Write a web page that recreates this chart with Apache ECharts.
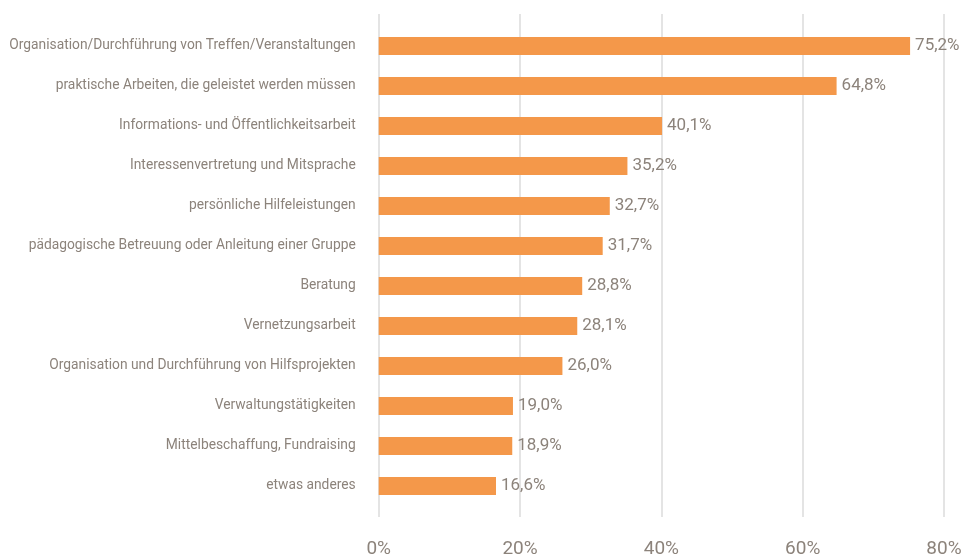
<!DOCTYPE html>
<html>
<head>
<meta charset="utf-8">
<script src="https://cdn.jsdelivr.net/npm/echarts@6/dist/echarts.min.js"></script>
<style>
  html, body { margin: 0; padding: 0; background: #fff; }
  #chart { width: 961px; height: 559px; }
</style>
</head>
<body>
<div id="chart"></div>
<script>
  // categories top to bottom
  var categories = [
    'Organisation/Durchführung von Treffen/Veranstaltungen',
    'praktische Arbeiten, die geleistet werden müssen',
    'Informations- und Öffentlichkeitsarbeit',
    'Interessenvertretung und Mitsprache',
    'persönliche Hilfeleistungen',
    'pädagogische Betreuung oder Anleitung einer Gruppe',
    'Beratung',
    'Vernetzungsarbeit',
    'Organisation und Durchführung von Hilfsprojekten',
    'Verwaltungstätigkeiten',
    'Mittelbeschaffung, Fundraising',
    'etwas anderes'
  ];
  var values = [75.2, 64.8, 40.1, 35.2, 32.7, 31.7, 28.8, 28.1, 26.0, 19.0, 18.9, 16.6];

  var textColor = '#8c837b';
  var font = 'Roboto, sans-serif';

  var chart = echarts.init(document.getElementById('chart'));
  var option = {
    animation: false,
    grid: [
      { left: 378.7, right: 17, top: 26, bottom: 53, outerBoundsMode: 'none', containLabel: false },
      { left: 378.7, right: 17, top: 14, bottom: 42, outerBoundsMode: 'none', containLabel: false }
    ],
    xAxis: [
      {
        gridIndex: 0, type: 'value', min: 0, max: 80, interval: 20,
        axisLine: { show: false }, axisTick: { show: false },
        axisLabel: { show: false }, splitLine: { show: false }
      },
      {
        gridIndex: 1, type: 'value', min: 0, max: 80, interval: 20,
        axisLine: { show: false }, axisTick: { show: false },
        axisLabel: {
          color: textColor, fontFamily: font, fontSize: 19, margin: 23,
          formatter: '{value}%'
        },
        splitLine: { lineStyle: { color: '#e4e4e4', width: 2 } }
      }
    ],
    yAxis: [
      {
        gridIndex: 0, type: 'category', data: categories, inverse: true,
        axisLine: { show: false }, axisTick: { show: false },
        axisLabel: { color: textColor, fontFamily: font, fontSize: 13.8, margin: 23 }
      },
      {
        gridIndex: 1, type: 'category', data: categories, show: false
      }
    ],
    series: [{
      type: 'bar',
      xAxisIndex: 0, yAxisIndex: 0,
      data: values,
      barWidth: 18,
      itemStyle: { color: '#f4984a' },
      label: {
        show: true, position: 'right', distance: 5,
        color: textColor, fontFamily: font, fontSize: 17,
        formatter: function (p) { return p.value.toFixed(1).replace('.', ',') + '%'; }
      }
    }]
  };
  chart.setOption(option);
</script>
</body>
</html>
